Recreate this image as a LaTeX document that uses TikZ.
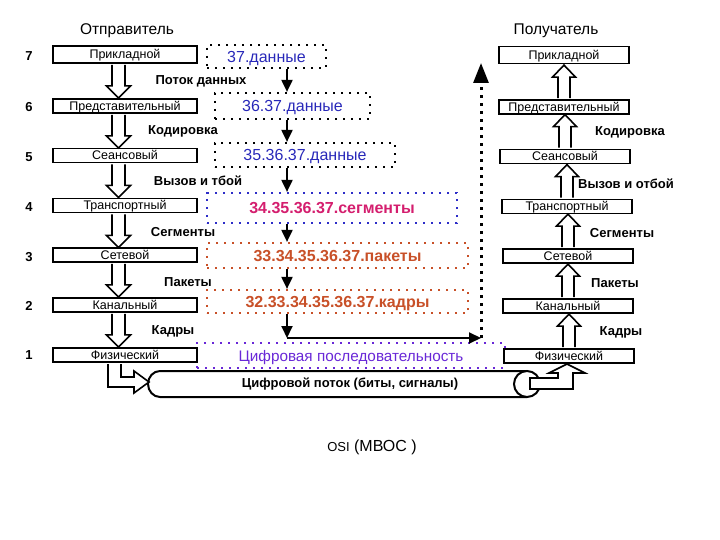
\documentclass[tikz,border=0pt]{standalone}
\usepackage{fontspec}
\setmainfont{Liberation Sans}
\usetikzlibrary{arrows.meta}
\definecolor{datablue}{RGB}{40,40,185}
\definecolor{segred}{RGB}{212,30,110}
\definecolor{segblue}{RGB}{45,45,200}
\definecolor{pktbrown}{RGB}{200,80,40}
\definecolor{digviolet}{RGB}{105,40,215}
\begin{document}
\begin{tikzpicture}[x=1pt,y=-1pt,
    layer/.style={draw=black,line width=1.8pt,fill=white,minimum width=144,minimum height=14,inner sep=0pt,text height=9pt,text depth=0pt,font=\fontsize{12.5}{14}\selectfont},
    rlayer/.style={layer,minimum width=130},
    num/.style={font=\fontsize{13}{15}\selectfont\bfseries},
    lbl/.style={font=\fontsize{13}{15}\selectfont\bfseries},
    head/.style={font=\fontsize{15.5}{18}\selectfont},
    dotbox/.style={line width=2.2pt,dash pattern=on 2.2pt off 5.8pt,inner sep=0pt,text height=11.5pt,text depth=0pt},
    dbox/.style={dotbox,draw=black,text=datablue,font=\fontsize{16}{18}\selectfont},
    sbox/.style={dotbox,draw=segblue,text=segred,font=\fontsize{16}{18}\selectfont\bfseries},
    pbox/.style={dotbox,draw=pktbrown,text=pktbrown,font=\fontsize{16}{18}\selectfont\bfseries},
    arr/.style={line width=2pt,-{Triangle[length=12pt,width=11pt]}},
    hollow/.style={line width=1.6pt,fill=white},
    hdown/.pic={\draw[hollow] (-6.5,0.9) -- (-6.5,22) -- (-12,22) -- (0,34) -- (12,22) -- (6.5,22) -- (6.5,0.9);},
    hup/.pic={\draw[hollow] (-6,-0.9) -- (-6,-22) -- (-11.5,-22) -- (0,-34) -- (11.5,-22) -- (6,-22) -- (6,-0.9);}]
\useasboundingbox (0,0) rectangle (720,540);

% headers
\node[head] (H1) at (127,31) {Отправитель};
\node[head] (H2) at (556,31) {Получатель};

% layer numbers
\foreach \n/\y in {7/56,6/107,5/157,4/207,3/257,2/306,1/355}
    \node[num] (N\n) at (29,\y) {\n};

% digital sequence box (under the physical boxes)
\node[dotbox,draw=digviolet,text=digviolet,minimum width=308,minimum height=25,font=\fontsize{15.3}{18}\selectfont] (D7) at (351,355.5) {Цифровая последовательность};

% sender
\node[layer,minimum height=17] (S7) at (125,54.5) {Прикладной};
\node[layer] (S6) at (125,106) {Представительный};
\node[layer] (S5) at (125,155.5) {Сеансовый};
\node[layer] (S4) at (125,205.5) {Транспортный};
\node[layer] (S3) at (125,255) {Сетевой};
\node[layer] (S2) at (125,305) {Канальный};
\node[layer] (S1) at (125,355) {Физический};

% receiver
\node[rlayer,minimum height=17] (R7) at (564,55) {Прикладной};
\node[rlayer] (R6) at (564,107) {Представительный};
\node[rlayer] (R5) at (565,156.5) {Сеансовый};
\node[rlayer] (R4) at (567,206.5) {Транспортный};
\node[rlayer] (R3) at (568,256) {Сетевой};
\node[rlayer] (R2) at (568,306) {Канальный};
\node[rlayer] (R1) at (569,356) {Физический};

% hollow arrows
\coordinate (LA) at (118.5,0);
\pic at (S7.south -| LA) {hdown};
\pic at (S6.south -| LA) {hdown};
\pic at (S5.south -| LA) {hdown};
\pic at (S4.south -| LA) {hdown};
\pic at (S3.south -| LA) {hdown};
\pic at (S2.south -| LA) {hdown};
\pic at (R1.north) {hup};
\pic at (R2.north) {hup};
\pic at (R3.north) {hup};
\pic at (R4.north) {hup};
\pic at (R5.north) {hup};
\pic at (R6.north) {hup};

% labels
\node[lbl] (L1) at (201,81) {Поток данных};
\node[lbl] (L2) at (183,131) {Кодировка};
\node[lbl] (L3) at (198,181) {Вызов и тбой};
\node[lbl] (L4) at (183,232) {Сегменты};
\node[lbl] (L5) at (188,282) {Пакеты};
\node[lbl] (L6) at (173,331) {Кадры};
\node[lbl] (M2) at (630,132) {Кодировка};
\node[lbl] (M3) at (626,184) {Вызов и отбой};
\node[lbl] (M4) at (622,233) {Сегменты};
\node[lbl] (M5) at (615,283) {Пакеты};
\node[lbl] (M6) at (621,332) {Кадры};

% data units
\node[dbox,minimum width=119,minimum height=23] (D1) at (266.5,56.5) {37.данные};
\node[dbox,minimum width=155,minimum height=26] (D2) at (292.5,106) {36.37.данные};
\node[dbox,minimum width=180,minimum height=24] (D3) at (305,155) {35.36.37.данные};
\node[sbox,minimum width=250,minimum height=30] (D4) at (332,208) {34.35.36.37.сегменты};
\node[pbox,minimum width=261,minimum height=25] (D5) at (337.5,255.5) {33.34.35.36.37.пакеты};
\node[pbox,minimum width=261,minimum height=23] (D6) at (337.5,301.5) {32.33.34.35.36.37.кадры};

\coordinate (X) at (287,0);
\coordinate (C) at (287,338);
\coordinate (E) at (481,338);
\coordinate (T) at (481,63);
\draw[arr] (D1.south -| X) -- (D2.north -| X);
\draw[arr] (D2.south -| X) -- (D3.north -| X);
\draw[arr] (D3.south -| X) -- (D4.north -| X);
\draw[arr] (D4.south -| X) -- (D5.north -| X);
\draw[arr] (D5.south -| X) -- (D6.north -| X);
\draw[arr] (D6.south -| X) -- (C);
\draw[arr] (C) -- (E);
\draw[line width=3pt,dash pattern=on 3pt off 5pt,-{Triangle[length=20pt,width=15pt]}] (E) -- (T);

% bit stream pipe
\draw[line width=2pt,fill=white] (527,371) -- (160,371) arc[start angle=270,end angle=90,x radius=12,y radius=13] -- (527,397);
\draw[line width=2pt,fill=white] (527,384) circle[radius=13];
\node[lbl] (P) at (350,384) {Цифровой поток (биты, сигналы)};
\draw[hollow] (108,364) -- (108,387) -- (134,387) -- (134,393) -- (149,382) -- (134,371) -- (134,377) -- (121,377) -- (121,364);
\draw[hollow] (530,378) -- (558,378) -- (558,373) -- (549,373) -- (567,364) -- (585,373) -- (573,373) -- (573,389) -- (530,389) -- cycle;

% caption
\node[font=\fontsize{16}{18}\selectfont] (CAP) at (372,447) {{\fontsize{13}{15}\selectfont OSI} (МВОС )};
\end{tikzpicture}
\end{document}
